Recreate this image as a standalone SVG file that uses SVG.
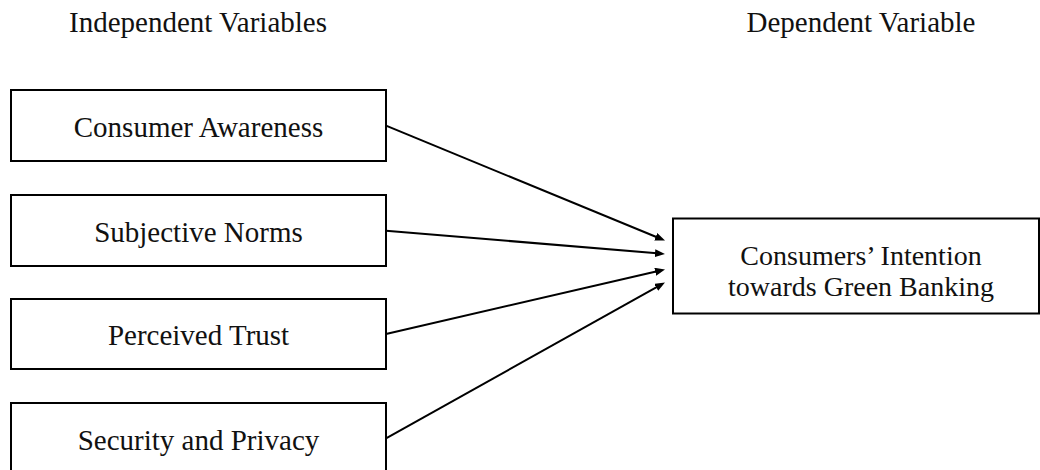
<svg xmlns="http://www.w3.org/2000/svg" width="1040" height="470" viewBox="0 0 1040 470">
  <style>
    .box { fill: #ffffff; stroke: #000000; stroke-width: 2; }
    .lbl { font-family: "Liberation Serif", "Times New Roman", serif; font-size: 29px; fill: #111111; text-anchor: middle; }
    .lbl2 { font-size: 28px; }
    .edge { stroke: #000000; stroke-width: 2; fill: none; marker-end: url(#arrow); }
  </style>
  <defs>
    <marker id="arrow" viewBox="0 0 10 8" markerWidth="10" markerHeight="8" refX="2" refY="4" orient="auto" markerUnits="userSpaceOnUse">
      <path d="M0,0 L10,4 L0,8 z" fill="#000000"/>
    </marker>
  </defs>
  <rect width="1040" height="470" fill="#ffffff"/>

  <!-- column headings -->
  <text class="lbl" x="198" y="32">Independent Variables</text>
  <text class="lbl" x="861" y="32">Dependent Variable</text>

  <!-- independent variables -->
  <g id="consumer-awareness">
    <rect class="box" x="11" y="90" width="375" height="71"/>
    <text class="lbl" x="198.5" y="137">Consumer Awareness</text>
  </g>
  <g id="subjective-norms">
    <rect class="box" x="11" y="195" width="375" height="71"/>
    <text class="lbl" x="198.5" y="242">Subjective Norms</text>
  </g>
  <g id="perceived-trust">
    <rect class="box" x="11" y="299" width="375" height="70"/>
    <text class="lbl" x="198.5" y="345">Perceived Trust</text>
  </g>
  <g id="security-privacy">
    <rect class="box" x="11" y="403" width="375" height="71"/>
    <text class="lbl" x="198.5" y="450">Security and Privacy</text>
  </g>

  <!-- dependent variable -->
  <g id="intention">
    <rect class="box" x="673" y="218.5" width="366" height="95"/>
    <text class="lbl lbl2" x="861" y="264.5">Consumers’ Intention</text>
    <text class="lbl lbl2" x="861" y="295.5">towards Green Banking</text>
  </g>

  <!-- connectors -->
  <g id="connectors">
    <line class="edge" x1="386" y1="125.7" x2="657.6" y2="237.5"/>
    <line class="edge" x1="386" y1="230.7" x2="657.0" y2="253.3"/>
    <line class="edge" x1="386" y1="334" x2="657.2" y2="271.3"/>
    <line class="edge" x1="386" y1="438.3" x2="658.0" y2="286.4"/>
  </g>
</svg>
